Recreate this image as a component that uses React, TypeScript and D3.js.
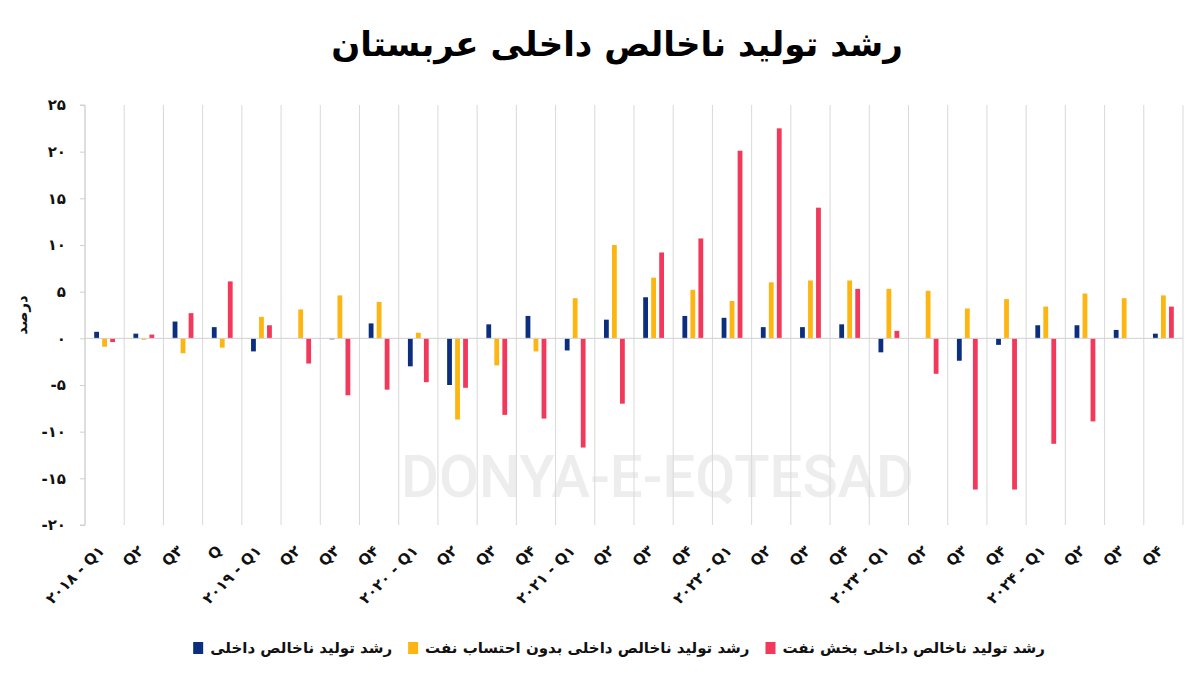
import React, { useEffect, useRef } from "react";
import * as d3 from "d3";

const categories = [
  "۲۰۱۸ - Q۱", "Q۲", "Q۳", "Q",
  "۲۰۱۹ - Q۱", "Q۲", "Q۳", "Q۴",
  "۲۰۲۰ - Q۱", "Q۲", "Q۳", "Q۴",
  "۲۰۲۱ - Q۱", "Q۲", "Q۳", "Q۴",
  "۲۰۲۲ - Q۱", "Q۲", "Q۳", "Q۴",
  "۲۰۲۳ - Q۱", "Q۲", "Q۳", "Q۴",
  "۲۰۲۴ - Q۱", "Q۲", "Q۳", "Q۴",
];

const gdpTotal = [0.7, 0.5, 1.8, 1.2, -1.4, 0, -0.1, 1.6, -3.0, -5.0, 1.5, 2.4, -1.3, 2.0, 4.4, 2.4, 2.2, 1.2, 1.2, 1.5, -1.5, 0, -2.4, -0.7, 1.4, 1.4, 0.9, 0.5];
const gdpNonOil = [-0.9, -0.15, -1.6, -1.0, 2.3, 3.1, 4.6, 3.9, 0.6, -8.7, -2.9, -1.4, 4.3, 10.0, 6.5, 5.2, 4.0, 6.0, 6.2, 6.2, 5.3, 5.1, 3.2, 4.2, 3.4, 4.8, 4.3, 4.6];
const gdpOil = [-0.4, 0.4, 2.7, 6.1, 1.4, -2.7, -6.1, -5.5, -4.7, -5.3, -8.2, -8.6, -11.7, -7.0, 9.2, 10.7, 20.1, 22.5, 14.0, 5.3, 0.8, -3.8, -16.2, -16.2, -11.3, -8.9, 0, 3.4];

const seriesNames = [
  "رشد تولید ناخالص داخلی",
  "رشد تولید ناخالص داخلی بدون احتساب نفت",
  "رشد تولید ناخالص داخلی بخش نفت",
];
const seriesColors = ["#0b2f7e", "#fdb511", "#f2395c"];
const yTicks = [-20, -15, -10, -5, 0, 5, 10, 15, 20, 25];

const title = "رشد تولید ناخالص داخلی عربستان";
const yLabel = "درصد";
const watermark = "DONYA-E-EQTESAD";

const W = 1200;
const H = 679;
const FONT = "'DejaVu Sans', sans-serif";

const toFa = (n: number) =>
  String(n).replace(/\d/g, (d) => "۰۱۲۳۴۵۶۷۸۹"[+d]);

export default function App() {
  const ref = useRef<SVGSVGElement | null>(null);

  useEffect(() => {
    const svg = d3.select(ref.current!);
    svg.selectAll("*").remove();

    const left = 85, right = 1183, top = 105, bottom = 525;
    const x = d3.scaleBand<number>().domain(d3.range(categories.length)).range([left, right]).paddingInner(0).paddingOuter(0);
    const keys = [0, 1, 2];
    const xs = d3.scaleBand<number>().domain(keys).range([0, x.bandwidth()]).paddingInner(0.4).paddingOuter(1.15);
    const y = d3.scaleLinear().domain([-20, 25]).range([bottom, top]);
    const series = [gdpTotal, gdpNonOil, gdpOil];

    svg.append("rect").attr("width", W).attr("height", H).attr("fill", "#fff");

    // watermark
    svg.append("text")
      .attr("x", 401).attr("y", 497)
      .attr("textLength", 513).attr("lengthAdjust", "spacingAndGlyphs")
      .attr("font-family", "Roboto, 'Open Sans', sans-serif").attr("font-weight", 500)
      .attr("font-size", 60).attr("fill", "#ededed")
      .text(watermark);

    // vertical gridlines
    const g = svg.append("g");
    d3.range(categories.length + 1).forEach((i) => {
      const gx = left + i * x.step();
      g.append("line")
        .attr("x1", gx).attr("x2", gx).attr("y1", top).attr("y2", bottom)
        .attr("stroke", "#d9d9d9").attr("stroke-width", 1);
    });

    // y axis
    const yAxis = d3.axisLeft(y).tickValues(yTicks).tickSize(5).tickFormat(() => "");
    const ya = svg.append("g").attr("transform", `translate(${left},0)`).call(yAxis);
    ya.selectAll("path,line").attr("stroke", "#d0d0d0");
    ya.select("path").attr("d", `M-5,${top}H0V${bottom}H-5`);

    yTicks.forEach((t) => {
      svg.append("text")
        .attr("x", 66).attr("y", y(t)).attr("dy", "0.35em")
        .attr("text-anchor", "end")
        .attr("font-family", FONT).attr("font-weight", 700).attr("font-size", 15)
        .attr("fill", "#111")
        .text(toFa(t));
    });

    // bars
    series.forEach((vals, si) => {
      svg.append("g").selectAll("rect").data(vals).join("rect")
        .attr("x", (_d, i) => x(i)! + xs(si)!)
        .attr("width", xs.bandwidth())
        .attr("y", (d) => y(Math.max(0, d)))
        .attr("height", (d) => Math.abs(y(d) - y(0)))
        .attr("fill", seriesColors[si]);
    });

    // zero line
    svg.append("line")
      .attr("x1", left).attr("x2", right).attr("y1", y(0)).attr("y2", y(0))
      .attr("stroke", "#d0d0d0").attr("stroke-width", 1);

    // x labels
    categories.forEach((c, i) => {
      const cx = x(i)! + x.bandwidth() / 2;
      svg.append("text")
        .attr("transform", `translate(${cx - 3},${548}) rotate(-45)`)
        .attr("text-anchor", "end").attr("dy", "0.35em")
        .attr("font-family", FONT).attr("font-weight", 700).attr("font-size", 15)
        .attr("fill", "#111")
        .text(c);
    });

    // title
    svg.append("text")
      .attr("x", 617).attr("y", 56).attr("text-anchor", "middle")
      .attr("font-family", FONT).attr("font-weight", 700).attr("font-size", 34)
      .attr("fill", "#000")
      .text(title);

    // y label
    svg.append("text")
      .attr("transform", `translate(22,315) rotate(-90)`)
      .attr("text-anchor", "middle").attr("dy", "0.35em")
      .attr("font-family", FONT).attr("font-weight", 700).attr("font-size", 15)
      .attr("fill", "#111")
      .text(yLabel);

    // legend
    const lg = svg.append("g");
    const items = seriesNames.map((name, i) => {
      const t = lg.append("text")
        .attr("y", 648).attr("dy", "0.35em")
        .attr("text-anchor", "start")
        .attr("font-family", FONT).attr("font-weight", 700).attr("font-size", 15)
        .attr("fill", "#111")
        .text(name);
      const w = (t.node() as SVGTextElement).getComputedTextLength();
      return { t, w, i };
    });
    const mW = 10, gap1 = 7, gap2 = 16;
    const total = items.reduce((s, it) => s + mW + gap1 + it.w, 0) + gap2 * (items.length - 1);
    let cur = 619 - total / 2;
    items.forEach((it) => {
      lg.append("rect").attr("x", cur).attr("y", 642).attr("width", mW).attr("height", 12)
        .attr("fill", seriesColors[it.i]);
      it.t.attr("x", cur + mW + gap1);
      cur += mW + gap1 + it.w + gap2;
    });
  }, []);

  return (
    <svg ref={ref} width={W} height={H} style={{ display: "block", position: "absolute", left: 0, top: 0 }} />
  );
}
